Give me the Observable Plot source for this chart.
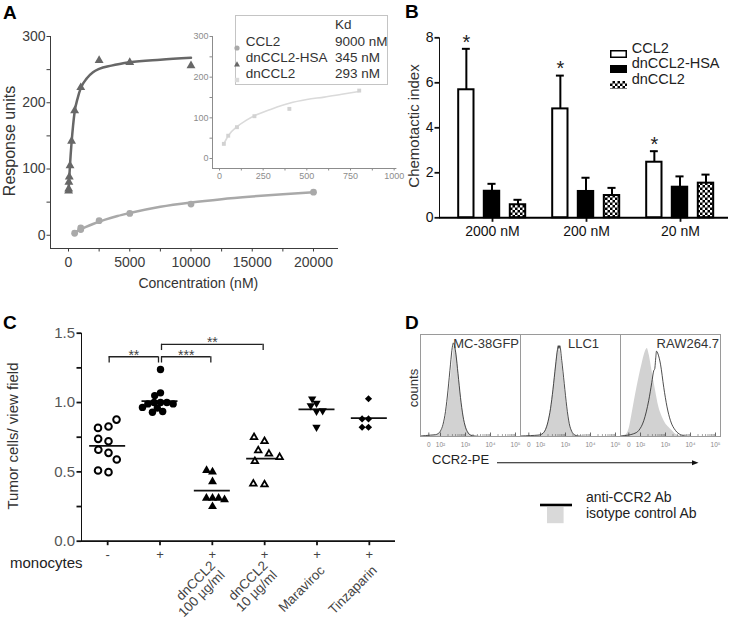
<!DOCTYPE html>
<html><head><meta charset="utf-8">
<script src="https://cdn.jsdelivr.net/npm/d3@7"></script>
<script src="https://cdn.jsdelivr.net/npm/@observablehq/plot@0.6"></script>
<style>
body{margin:0;background:#fff;}
#fig{position:relative;width:731px;height:623px;overflow:hidden;background:#fff;font-family:"Liberation Sans",Arial,Helvetica,sans-serif;color:#222;}
.t{position:absolute;white-space:pre;line-height:1;}
.thick svg [aria-label*="axis"]{stroke-width:1.8px;}
</style></head><body><div id="fig"></div>
<script>
// ================= DATA =================
// Panel A – binding (response units vs concentration nM)
const aHsaConc = [8, 16, 31, 63, 125, 250, 500, 1000, 2500, 5000, 10000];
const aHsaResp = [67, 70, 80, 88, 105, 142, 188, 223, 264, 261, 256];
const aHsaFitConc = [8, 30, 60, 125, 250, 375, 500, 750, 1000, 1500, 2000, 2500, 3500, 5000, 7500, 10000];
const aHsaFitResp = [66, 76, 86, 107, 140, 166, 186, 207, 222, 237, 246, 251, 256, 261, 265, 268];
const aCclConc = [500, 1000, 1000, 2500, 5000, 10000, 20000];
const aCclResp = [3, 8.5, 11, 22, 33, 47, 65];
const aCclFitConc = [500, 1000, 2000, 3000, 4000, 5000, 7500, 10000, 12500, 15000, 17500, 20000];
const aCclFitResp = [4, 9, 17, 23.5, 29, 33.5, 43, 49.5, 54.5, 58.5, 62, 65];
const aDnConc = [25, 50, 100, 200, 400, 800];
const aDnResp = [36, 56, 77, 104, 122, 167];
const aDnFitConc = [25, 50, 100, 150, 200, 300, 400, 500, 600, 700, 800];
const aDnFitResp = [36, 56, 78, 93, 105, 122, 136, 145, 151, 158, 165];
const aLegendNames = ["CCL2", "dnCCL2-HSA", "dnCCL2"];
const aLegendKd = ["9000 nM", "345 nM", "293 nM"];
const aXTicks = [0, 2500, 5000, 7500, 10000, 12500, 15000, 17500, 20000];
const aXLabeled = [0, 5000, 10000, 15000, 20000];
const aYTicks = [0, 50, 100, 150, 200, 250, 300];
const aYLabeled = [0, 100, 200, 300];
const aInXTicks = [0, 125, 250, 375, 500, 625, 750, 875, 1000];
const aInXLabeled = [0, 250, 500, 750, 1000];

// Panel B – chemotactic index
const bGroups = ["2000 nM", "200 nM", "20 nM"];
const bSeries = ["CCL2", "dnCCL2-HSA", "dnCCL2"];
const bCCL2 = [5.69, 4.84, 2.47];
const bCCL2Top = [7.51, 6.32, 2.96];
const bHSA = [1.18, 1.17, 1.36];
const bHSATop = [1.51, 1.78, 1.84];
const bDn = [0.58, 0.99, 1.54];
const bDnTop = [0.80, 1.33, 1.92];
const bSignificant = [true, true, true];
const bYTicks = [0, 2, 4, 6, 8];

// Panel C – tumor cells / view field
const cCats = ["none", "mono", "dn100", "dn10", "mara", "tinz"];
const cMonocytes = ["-", "+", "+", "+", "+", "+"];
const cTreatments = ["", "", "dnCCL2\n100 µg/ml", "dnCCL2\n10 µg/ml", "Maraviroc", "Tinzaparin"];
const cNone = [0.827, 0.817, 0.877, 0.721, 0.738, 0.637, 0.659, 0.589, 0.498, 0.51];
const cMono = [1.238, 1.07, 1.05, 1.0, 1.0, 1.0, 0.99, 0.99, 0.965, 0.96, 0.935, 0.93];
const cDn100 = [0.50, 0.51, 0.43, 0.31, 0.31, 0.31, 0.30, 0.25];
const cDn10 = [0.721, 0.75, 0.654, 0.63, 0.606, 0.577, 0.409, 0.414];
const cMara = [0.937, 0.995, 1.027, 0.978, 0.942, 0.822];
const cTinz = [1.027, 0.882, 0.882, 0.822, 0.822];
const cBracketFrom = ["none", "mono", "mono"];
const cBracketTo = ["mono", "dn100", "dn10"];
const cBracketLevel = [1.33, 1.33, 1.42];
const cBracketStars = ["**", "***", "**"];
const cYTicks = [0, 0.25, 0.5, 0.75, 1, 1.25, 1.5];
const cYLabeled = [0, 0.5, 1, 1.5];

// Panel D – flow cytometry histograms (log10 fluorescence, % of max)
const dCells = ["MC-38GFP", "LLC1", "RAW264.7"];
const dMcIsoX = [1.2, 1.6, 1.8, 1.9, 2.0, 2.1, 2.2, 2.3, 2.4, 2.5, 2.57, 2.65, 2.75, 2.85, 2.95, 3.05, 3.15, 3.25, 3.4, 3.6];
const dMcIsoY = [0, 0.5, 1, 2, 4, 9, 19, 36, 60, 85, 99, 90, 62, 36, 19, 9, 4, 1.5, 0.5, 0];
const dMcAntiX = [1.2, 1.4, 1.6, 1.8, 1.9, 2.0, 2.1, 2.2, 2.3, 2.4, 2.47, 2.52, 2.56, 2.62, 2.7, 2.8, 2.9, 3.0, 3.1, 3.2, 3.35, 3.6];
const dMcAntiY = [0.5, 1, 1.5, 2, 3, 6, 13, 27, 50, 78, 96, 101, 98, 88, 68, 42, 22, 10, 4, 1.5, 0.5, 0];
const dLlcIsoX = [1.2, 1.8, 2.0, 2.1, 2.2, 2.3, 2.4, 2.5, 2.6, 2.68, 2.73, 2.78, 2.85, 2.95, 3.05, 3.15, 3.25, 3.35, 3.5, 3.8];
const dLlcIsoY = [0, 0.5, 1.5, 3, 7, 15, 29, 50, 75, 92, 96, 93, 80, 56, 32, 15, 6, 2, 0.5, 0];
const dLlcAntiX = [1.2, 1.6, 1.9, 2.0, 2.1, 2.2, 2.3, 2.4, 2.5, 2.6, 2.68, 2.71, 2.74, 2.77, 2.85, 2.95, 3.05, 3.15, 3.25, 3.35, 3.5, 3.8];
const dLlcAntiY = [0.5, 1, 1.5, 2, 3.5, 7.5, 16, 30, 51, 76, 94, 98, 95, 98, 82, 57, 32, 14, 5.5, 2, 0.5, 0];
const dRawIsoX = [1.2, 1.35, 1.46, 1.56, 1.66, 1.86, 2.06, 2.2, 2.27, 2.35, 2.46, 2.6, 2.73, 2.87, 3.0, 3.13, 3.26, 3.46, 3.7];
const dRawIsoY = [0, 1, 3, 10, 24, 53, 78, 92, 95, 88, 71, 50, 32, 21, 14, 10, 6.5, 1.5, 0];
const dRawAntiX = [1.2, 1.5, 1.73, 1.93, 2.13, 2.33, 2.45, 2.53, 2.57, 2.61, 2.64, 2.7, 2.8, 2.93, 3.06, 3.2, 3.4, 3.6, 3.9];
const dRawAntiY = [0.5, 1.5, 3, 6.5, 17, 39, 58, 71, 73, 85, 92, 89, 78, 53, 32, 17, 6.5, 2, 0];
const dTickVals = [1.533, 2, 3, 4, 5];
const dTickLabels = ["0", "10²", "10³", "10⁴", "10⁵"];
const dLegend = ["anti-CCR2 Ab", "isotype control Ab"];

// ================= HELPERS =================
const FONT = '"Liberation Sans", Arial, Helvetica, sans-serif';
const fig = document.getElementById("fig");
const NS = "http://www.w3.org/2000/svg";
const zip = (xs, ys) => xs.map((x, i) => ({x, y: ys[i]}));
function place(node, left, top, cls) {
  const d = document.createElement("div");
  d.style.cssText = `position:absolute;left:${left}px;top:${top}px;`;
  if (cls) d.className = cls;
  d.appendChild(node); fig.appendChild(d); return node;
}
function label(text, x, y, o = {}) {
  const {size = 14, anchor = "middle", rotate = 0, color = "#222", weight = "normal"} = o;
  const d = document.createElement("div");
  d.className = "t";
  const tx = anchor === "middle" ? "-50%" : anchor === "end" ? "-100%" : "0";
  d.style.left = x + "px"; d.style.top = y + "px";
  d.style.fontSize = size + "px"; d.style.color = color; d.style.fontWeight = weight;
  d.style.transform = `translate(${tx},-50%) rotate(${rotate}deg)`;
  if (rotate) d.style.transformOrigin = "50% 50%";
  d.textContent = text; fig.appendChild(d); return d;
}
function svgEl(w, h, left, top, inner) {
  const d = document.createElement("div");
  d.style.cssText = `position:absolute;left:${left}px;top:${top}px;width:${w}px;height:${h}px;`;
  d.innerHTML = `<svg xmlns="${NS}" width="${w}" height="${h}" style="overflow:visible">${inner}</svg>`;
  fig.appendChild(d);
}
const baseStyle = (size, color) => ({fontFamily: FONT, fontSize: size + "px", color, background: "transparent", overflow: "visible", maxWidth: "none"});
const fmtSel = (list) => (d) => list.includes(d) ? String(d) : "";

// ================= PANEL A =================
const aMain = Plot.plot({
  width: 370, height: 300, marginLeft: 50, marginRight: 33, marginTop: 36, marginBottom: 52,
  style: baseStyle(14, "#3c3c3c"),
  x: {domain: [-1470, 21960], ticks: aXTicks, tickFormat: fmtSel(aXLabeled), tickSize: 3.5, tickPadding: 5, line: true, label: null},
  y: {domain: [-20, 300], ticks: aYTicks, tickFormat: fmtSel(aYLabeled), tickSize: 3.5, tickPadding: 1.5, line: true, label: null},
  marks: [
    Plot.line(zip(aCclFitConc, aCclFitResp), {x: "x", y: "y", stroke: "#a9a9a9", strokeWidth: 2.5, curve: "monotone-x"}),
    Plot.dot(zip(aCclConc, aCclResp), {x: "x", y: "y", r: 3.4, fill: "#a9a9a9"}),
    Plot.line(zip(aHsaFitConc, aHsaFitResp), {x: "x", y: "y", stroke: "#676767", strokeWidth: 2.5, curve: "monotone-x"}),
    Plot.dot(zip(aHsaConc, aHsaResp), {x: "x", y: "y", r: 3.3, symbol: "triangle", fill: "#676767"})
  ]
});
place(aMain, 0, 0);

const aInset = Plot.plot({
  width: 230, height: 175, marginLeft: 32, marginRight: 14.6, marginTop: 16, marginBottom: 27,
  style: baseStyle(9, "#8c8c8c"),
  x: {domain: [-40, 1010], ticks: aInXTicks, tickFormat: fmtSel(aInXLabeled), tickSize: 2.5, tickPadding: 2, line: true, label: null},
  y: {domain: [-24.6, 300], ticks: aYTicks, tickFormat: fmtSel(aYLabeled), tickSize: 2.5, tickPadding: 1.5, line: true, label: null},
  marks: [
    Plot.line(zip(aDnFitConc, aDnFitResp), {x: "x", y: "y", stroke: "#dadada", strokeWidth: 1.6, curve: "monotone-x"}),
    Plot.dot(zip(aDnConc, aDnResp), {x: "x", y: "y", r: 2.2, symbol: "square", fill: "#d2d2d2"})
  ]
});
place(aInset, 180, 20);

// legend box of A
{
  const box = document.createElement("div");
  box.style.cssText = "position:absolute;left:235px;top:15px;width:151px;height:68px;border:1px solid #c4c4c4;background:#fff;";
  fig.appendChild(box);
  const rows = [42.3, 58.3, 74];
  label("Kd", 335, 25, {size: 13.5, anchor: "start", color: "#333"});
  const marks = [
    `<circle cx="4" cy="4" r="2.6" fill="#a9a9a9"/>`,
    `<path d="M4,1.2 L7,6.4 L1,6.4Z" fill="#676767"/>`,
    `<rect x="1.8" y="1.8" width="4.4" height="4.4" fill="#d9d9d9"/>`
  ];
  aLegendNames.forEach((n, i) => {
    svgEl(8, 8, 233.3, rows[i] - 4, marks[i]);
    label(n, 245.7, rows[i], {size: 13.5, anchor: "start", color: "#333"});
    label(aLegendKd[i], 335, rows[i], {size: 13.5, anchor: "start", color: "#333"});
  });
}
label("Response units", 10, 140.7, {size: 16, rotate: -90, color: "#333"});
label("Concentration (nM)", 198.3, 282.7, {size: 14, color: "#333"});
label("A", 3, 11.7, {size: 19, anchor: "start", weight: "bold", color: "#000"});

// ================= PANEL B =================
const bRows = bGroups.flatMap((g, i) => [
  {group: g, series: bSeries[0], value: bCCL2[i], top: bCCL2Top[i], sig: bSignificant[i]},
  {group: g, series: bSeries[1], value: bHSA[i], top: bHSATop[i], sig: false},
  {group: g, series: bSeries[2], value: bDn[i], top: bDnTop[i], sig: false}
]);
const bStyle = {
  "CCL2": {fill: "white", il: 13.2, ir: 65.5, dx: -26.15, cl: 16.9, cr: 69.2},
  "dnCCL2-HSA": {fill: "black", il: 38.8, ir: 39.8, dx: -0.5, cl: 42.45, cr: 43.45},
  "dnCCL2": {fill: "black", il: 64.8, ir: 13.8, dx: 25.5, cl: 68.45, cr: 17.45}
};
const bMarks = [];
bSeries.forEach((s, k) => {
  const st = bStyle[s], rows = bRows.filter(d => d.series === s);
  bMarks.push(
    Plot.ruleX(rows, {x: "group", y1: "value", y2: "top", dx: st.dx, stroke: "black", strokeWidth: 2}),
    Plot.tickY(rows, {x: "group", y: "top", insetLeft: st.cl, insetRight: st.cr, stroke: "black", strokeWidth: 2}),
    Plot.barY(rows, {x: "group", y1: 0, y2: "value", fill: st.fill, stroke: "black", strokeWidth: 2, insetLeft: st.il, insetRight: st.ir, ariaDescription: "series" + k})
  );
});
bMarks.push(
  Plot.text(bRows.filter(d => d.sig), {x: "group", y: "top", text: () => "*", dx: bStyle["CCL2"].dx, dy: -6.6, fontSize: 20, fill: "#222"}),
  Plot.ruleY([0], {stroke: "black", strokeWidth: 2})
);
const bPlot = Plot.plot({
  width: 361, height: 260, marginLeft: 69, marginRight: 3, marginTop: 37.3, marginBottom: 42.7,
  style: baseStyle(14, "#111"),
  x: {domain: bGroups, range: [74.5, 357.4], padding: 0, tickSize: 4.5, tickPadding: 4, label: null},
  y: {domain: [0, 8], ticks: bYTicks, tickSize: 4.5, tickPadding: 1.5, line: true, label: null},
  marks: bMarks
});
{
  const defs = document.createElementNS(NS, "defs");
  defs.innerHTML = `<pattern id="chk" width="5" height="5" patternUnits="userSpaceOnUse"><rect width="5" height="5" fill="#000"/><rect width="2.5" height="2.5" fill="#fff"/><rect x="2.5" y="2.5" width="2.5" height="2.5" fill="#fff"/></pattern>`;
  bPlot.insertBefore(defs, bPlot.firstChild);
  bPlot.querySelectorAll('[aria-description="series2"]').forEach(el => {
    el.setAttribute("fill", "url(#chk)");
    el.querySelectorAll("rect, path").forEach(r => r.setAttribute("fill", "url(#chk)"));
  });
}
place(bPlot, 370, 0, "thick");
{
  const rows = [48.2, 63, 78.7];
  const sw = [
    `<rect x="0.75" y="0.75" width="15.5" height="6.5" fill="#fff" stroke="#000" stroke-width="1.5"/>`,
    `<rect x="0" y="0" width="17" height="8" fill="#000"/>`,
    `<rect x="0" y="0" width="17" height="8" fill="url(#chk)"/>`
  ];
  bSeries.forEach((s, i) => {
    svgEl(17, 8, 610, rows[i] - 4, sw[i]);
    label(s, 631.7, rows[i], {size: 14.5, anchor: "start", color: "#222"});
  });
}
label("Chemotactic index", 413.3, 125.8, {size: 15, rotate: -90, color: "#333"});
label("B", 405, 11.2, {size: 19, anchor: "start", weight: "bold", color: "#000"});

// ================= PANEL C =================
const cGroups = [cNone, cMono, cDn100, cDn10, cMara, cTinz];
const cRows = cGroups.flatMap((vals, i) => vals.map(v => ({cat: cCats[i], i, value: v})));
const cMeans = cGroups.map((vals, i) => ({i, mean: d3.mean(vals)}));
const cBrackets = cBracketFrom.map((f, k) => ({a: cCats.indexOf(f), b: cCats.indexOf(cBracketTo[k]), level: cBracketLevel[k], stars: cBracketStars[k]}));
const cLabelRows = cCats.map((c, i) => ({i, sign: cMonocytes[i], treat: cTreatments[i]}));
const C_W = 410, C_H = 323, C_M = {marginLeft: 81, marginRight: 15, marginTop: 32.7, marginBottom: 82.3};
const cBase = Plot.plot({
  width: C_W, height: C_H, ...C_M,
  style: baseStyle(15, "#111"),
  x: {domain: [-0.5, 5.5], ticks: [0, 1, 2, 3, 4, 5], tickFormat: () => "", tickSize: 4.5, label: null},
  y: {domain: [0, 1.5], ticks: cYTicks, tickFormat: d => cYLabeled.includes(d) ? d.toFixed(1) : "", tickSize: 4.5, tickPadding: 2, line: true, label: null},
  marks: [
    Plot.ruleY([0], {stroke: "#111", strokeWidth: 1.8}),
    Plot.ruleY(cMeans, {x1: "i", x2: "i", y: "mean", insetLeft: -18, insetRight: -18, stroke: "#111", strokeWidth: 1.8}),
    Plot.ruleY(cBrackets, {x1: "a", x2: "b", y: "level", insetLeft: 1.5, insetRight: 1.5, stroke: "#222", strokeWidth: 1.3}),
    Plot.ruleX(cBrackets, {x: "a", y1: "level", y2: d => d.level - 0.045, dx: 1.5, stroke: "#222", strokeWidth: 1.3}),
    Plot.ruleX(cBrackets, {x: "b", y1: "level", y2: d => d.level - 0.045, dx: -1.5, stroke: "#222", strokeWidth: 1.3}),
    Plot.text(cBrackets, {x: d => (d.a + d.b) / 2, y: "level", text: "stars", dy: -1.5, fontSize: 14, fill: "#444"}),
    Plot.text(cLabelRows, {x: "i", text: "sign", frameAnchor: "bottom", dy: 17.6, fontSize: 13, fill: "#444"}),
    Plot.text(cLabelRows, {x: "i", text: "treat", frameAnchor: "bottom", dx: 5.5, dy: 27, rotate: -45, textAnchor: "end", lineAnchor: "middle", fontSize: 13.4, fill: "#444"})
  ]
});
cBase.querySelectorAll('[aria-label^="y-axis"] text').forEach(t => t.setAttribute("fill", "#555"));
place(cBase, 0, 300, "thick");

const downTriangle = {draw(ctx, size) { const y = Math.sqrt(size / (Math.sqrt(3) * 3)); ctx.moveTo(0, 2 * y); ctx.lineTo(-Math.sqrt(3) * y, -y); ctx.lineTo(Math.sqrt(3) * y, -y); ctx.closePath(); }};
const cDotStyle = [
  {symbol: "circle", fill: "white", stroke: "black", strokeWidth: 2, r: 3.3, padding: 4},
  {symbol: "circle", fill: "black", stroke: "none", strokeWidth: 0, r: 3.7, padding: -1},
  {symbol: "triangle", fill: "black", stroke: "none", strokeWidth: 0, r: 3.3, padding: -0.5},
  {symbol: "triangle2", fill: "white", stroke: "black", strokeWidth: 1.8, r: 3.1, padding: 5},
  {symbol: downTriangle, fill: "black", stroke: "none", strokeWidth: 0, r: 3.1, padding: 0},
  {symbol: "diamond2", fill: "black", stroke: "none", strokeWidth: 0, r: 3.2, padding: 0}
];
const cDots = Plot.plot({
  width: C_W, height: C_H, ...C_M,
  style: baseStyle(15, "#111"),
  fx: {domain: cCats, padding: 0, axis: null, label: null},
  x: {axis: null},
  y: {domain: [0, 1.5], axis: null},
  marks: cCats.map((c, i) => {
    const s = cDotStyle[i];
    return Plot.dot(cRows.filter(d => d.cat === c), Plot.dodgeX({anchor: "middle", padding: s.padding, fx: "cat", y: "value", r: s.r, symbol: s.symbol, fill: s.fill, stroke: s.stroke, strokeWidth: s.strokeWidth}));
  })
});
place(cDots, 0, 300);
label("Tumor cells/ view field", 11.7, 435.8, {size: 15, rotate: -90, color: "#333"});
label("monocytes", 10, 561.7, {size: 15, anchor: "start", color: "#222"});
label("C", 3, 321.7, {size: 19, anchor: "start", weight: "bold", color: "#000"});

// ================= PANEL D =================
const dSeries = (cell, xs, ys) => xs.map((x, i) => ({cell, x, v: ys[i]}));
const dIso = [...dSeries(dCells[0], dMcIsoX, dMcIsoY), ...dSeries(dCells[1], dLlcIsoX, dLlcIsoY), ...dSeries(dCells[2], dRawIsoX, dRawIsoY)];
const dAnti = [...dSeries(dCells[0], dMcAntiX, dMcAntiY), ...dSeries(dCells[1], dLlcAntiX, dLlcAntiY), ...dSeries(dCells[2], dRawAntiX, dRawAntiY)];
const dMajor = dTickVals.map((v, i) => ({v, label: dTickLabels[i]}));
const dMinor = [2, 3, 4].flatMap(e => [2, 3, 4, 5, 6, 7, 8, 9].map(k => Math.log10(k) + e));
const dPlot = Plot.plot({
  width: 330, height: 160, marginLeft: 20, marginRight: 10, marginTop: 14, marginBottom: 44,
  style: baseStyle(13, "#333"),
  fx: {domain: dCells, padding: 0, axis: null, label: null},
  x: {domain: [1.2, 5.2], axis: null},
  y: {domain: [0, 110], axis: null},
  marks: [
    Plot.areaY(dIso, {fx: "cell", x: "x", y1: 0, y2: "v", fill: "#d2d2d2", curve: "monotone-x"}),
    Plot.lineY(dAnti, {fx: "cell", x: "x", y: "v", stroke: "#222", strokeWidth: 0.8, curve: "monotone-x"}),
    Plot.tickX(dMinor, {x: d => d, insetTop: 100, stroke: "#666", strokeWidth: 0.6}),
    Plot.tickX(dMajor, {x: "v", insetTop: 98.5, stroke: "#444", strokeWidth: 0.8}),
    Plot.text(dMajor, {x: "v", text: "label", frameAnchor: "bottom", dy: 10, fontSize: 6.5, fill: "#888"}),
    Plot.frame({stroke: "#9a9a9a", strokeWidth: 1}),
    Plot.text([dCells[0], dCells[2]], {fx: d => d, text: d => d, frameAnchor: "top-right", textAnchor: "end", lineAnchor: "middle", dx: -1.5, dy: 9, fontSize: 13, fill: "#333"}),
    Plot.text([dCells[1]], {fx: d => d, text: d => d, frameAnchor: "top-right", textAnchor: "end", lineAnchor: "middle", dx: -21.5, dy: 9, fontSize: 13, fill: "#333"})
  ]
});
place(dPlot, 400, 320);
label("counts", 413, 387.5, {size: 13, rotate: -90, color: "#333"});
label("CCR2-PE", 432, 459.3, {size: 13, anchor: "start", color: "#222"});
svgEl(210, 10, 495, 454, `<line x1="2" y1="4.7" x2="200" y2="4.7" stroke="#111" stroke-width="1.1"/><path d="M203.5,4.7 L197,2.2 L197,7.2Z" fill="#111"/>`);
svgEl(34, 6, 539, 493.7, `<line x1="1" y1="3" x2="33" y2="3" stroke="#000" stroke-width="2.6"/>`);
svgEl(17, 17, 546.7, 506.5, `<rect width="16.6" height="16.2" fill="#d9d9d9"/>`);
label(dLegend[0], 586, 496.7, {size: 14, anchor: "start", color: "#222"});
label(dLegend[1], 586, 513.3, {size: 14, anchor: "start", color: "#222"});
label("D", 405, 321.7, {size: 19, anchor: "start", weight: "bold", color: "#000"});
</script></body></html>
